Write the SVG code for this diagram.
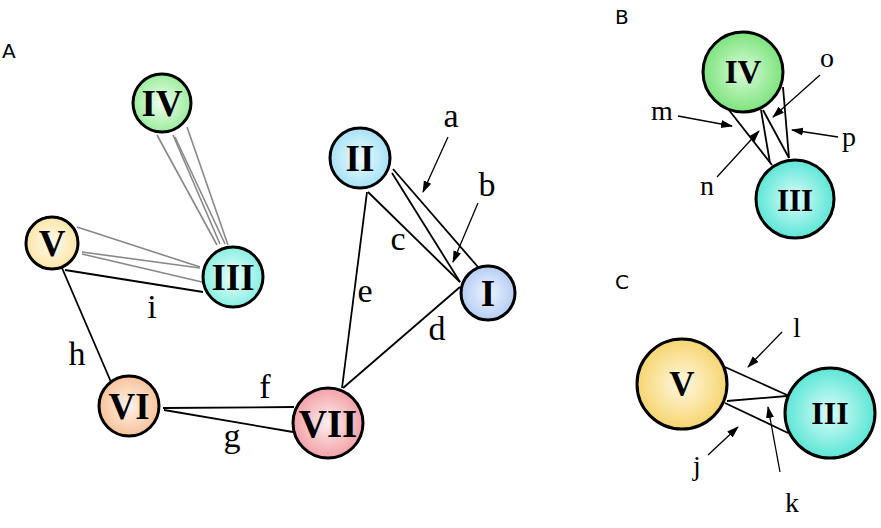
<svg xmlns="http://www.w3.org/2000/svg" width="881" height="528" viewBox="0 0 881 528">
<style>
.e{stroke:#000;stroke-width:1.8;fill:none}
.g{stroke:#888;stroke-width:1.6;fill:none}
.ar{stroke:#000;stroke-width:1.3;fill:none;marker-end:url(#ah)}
.n{stroke:#000;stroke-width:3}
.t{font-family:"Liberation Serif",serif;font-weight:bold;text-anchor:middle;fill:#000}
.l{font-family:"Liberation Serif",serif;text-anchor:middle;fill:#000}
.p{font-family:"DejaVu Sans","Liberation Sans",sans-serif;fill:#000;font-size:20px}
</style>
<defs>
<marker id="ah" markerUnits="userSpaceOnUse" markerWidth="12" markerHeight="10" viewBox="0 0 12 10" refX="11" refY="5" orient="auto"><path d="M0,1 L12,5 L0,9 Z" fill="#000"/></marker>
<radialGradient id="gIVa" cx="0.5" cy="0.5" r="0.5"><stop offset="0" stop-color="#effdef"/><stop offset="1" stop-color="#9ded9d"/></radialGradient>
<radialGradient id="gIIIa" cx="0.5" cy="0.5" r="0.5"><stop offset="0" stop-color="#effefb"/><stop offset="1" stop-color="#88efe3"/></radialGradient>
<radialGradient id="gVa" cx="0.5" cy="0.5" r="0.5"><stop offset="0" stop-color="#fffcf0"/><stop offset="1" stop-color="#fbe6a6"/></radialGradient>
<radialGradient id="gIIa" cx="0.5" cy="0.5" r="0.5"><stop offset="0" stop-color="#f0fbff"/><stop offset="1" stop-color="#a6e2f6"/></radialGradient>
<radialGradient id="gIa" cx="0.5" cy="0.5" r="0.5"><stop offset="0" stop-color="#f0f5ff"/><stop offset="1" stop-color="#b4cdf3"/></radialGradient>
<radialGradient id="gVIa" cx="0.5" cy="0.5" r="0.5"><stop offset="0" stop-color="#fff3ea"/><stop offset="1" stop-color="#f7c39a"/></radialGradient>
<radialGradient id="gVIIa" cx="0.5" cy="0.5" r="0.5"><stop offset="0" stop-color="#fdeeef"/><stop offset="1" stop-color="#f2a2a8"/></radialGradient>
<radialGradient id="gIVb" cx="0.5" cy="0.5" r="0.5"><stop offset="0" stop-color="#dafbda"/><stop offset="1" stop-color="#7de37d"/></radialGradient>
<radialGradient id="gIIIb" cx="0.5" cy="0.5" r="0.5"><stop offset="0" stop-color="#dcfdf9"/><stop offset="1" stop-color="#5ce6d6"/></radialGradient>
<radialGradient id="gVc" cx="0.5" cy="0.5" r="0.5"><stop offset="0" stop-color="#fff8e0"/><stop offset="1" stop-color="#f6d570"/></radialGradient>
</defs>
<rect width="881" height="528" fill="#fff"/>
<text class="p" x="2" y="58">A</text>
<text class="p" x="615" y="24">B</text>
<text class="p" x="615" y="289">C</text>
<g id="connectors">
<line class="g" x1="157" y1="135" x2="217" y2="245"/>
<line class="g" x1="173" y1="135" x2="220" y2="244"/>
<line class="g" x1="175" y1="137" x2="225" y2="244"/>
<line class="g" x1="187" y1="127" x2="228" y2="245"/>
<line class="g" x1="77" y1="227" x2="200" y2="267"/>
<line class="g" x1="82" y1="252" x2="200" y2="268"/>
<line class="g" x1="82" y1="254" x2="202" y2="282"/>
<line class="e" x1="65" y1="270" x2="203" y2="292"/>
<line class="e" x1="62" y1="268" x2="111" y2="382"/>
<line class="e" x1="393" y1="169" x2="478" y2="267"/>
<line class="e" x1="392" y1="173" x2="460" y2="282"/>
<line class="e" x1="368" y1="192" x2="460" y2="282"/>
<line class="e" x1="367" y1="192" x2="342" y2="388"/>
<line class="e" x1="460" y1="287" x2="343" y2="388"/>
<line class="e" x1="163" y1="408" x2="294" y2="407"/>
<line class="e" x1="164" y1="410" x2="293" y2="432"/>
<line class="e" x1="725" y1="105" x2="772" y2="165"/>
<line class="e" x1="761" y1="110" x2="770" y2="163"/>
<line class="e" x1="763" y1="110" x2="789" y2="158"/>
<line class="e" x1="783" y1="87" x2="789" y2="158"/>
<line class="e" x1="725" y1="367" x2="787" y2="395"/>
<line class="e" x1="727" y1="401" x2="787" y2="396"/>
<line class="e" x1="725" y1="403" x2="788" y2="433"/>
<line class="ar" x1="448" y1="137" x2="423" y2="192"/>
<line class="ar" x1="478" y1="203" x2="453" y2="262"/>
<line class="ar" x1="678" y1="116" x2="732" y2="126"/>
<line class="ar" x1="820" y1="75" x2="773" y2="117"/>
<line class="ar" x1="838" y1="137" x2="792" y2="130"/>
<line class="ar" x1="717" y1="177" x2="759" y2="131"/>
<line class="ar" x1="782" y1="332" x2="748" y2="367"/>
<line class="ar" x1="780" y1="472" x2="768" y2="407"/>
<line class="ar" x1="708" y1="455" x2="738" y2="427"/>
<g font-size="34">
<text class="l" x="451" y="127">a</text>
<text class="l" x="487" y="196">b</text>
<text class="l" x="398" y="250">c</text>
<text class="l" x="437" y="340">d</text>
<text class="l" x="365" y="302">e</text>
<text class="l" x="265" y="398">f</text>
<text class="l" x="232" y="447">g</text>
<text class="l" x="77" y="365">h</text>
<text class="l" x="152" y="318">i</text>
</g>
<g font-size="28">
<text class="l" x="662" y="120">m</text>
<text class="l" x="707" y="195">n</text>
<text class="l" x="827" y="67">o</text>
<text class="l" x="849" y="146">p</text>
<text class="l" x="797" y="337">l</text>
<text class="l" x="792" y="512">k</text>
<text class="l" x="697" y="475">j</text>
</g>
</g>
<g id="A-IV"><circle class="n" cx="162" cy="103" r="29" fill="url(#gIVa)"/><text class="t" x="162" y="116" font-size="37">IV</text></g>
<g id="A-V"><circle class="n" cx="52" cy="243" r="26" fill="url(#gVa)"/><text class="t" x="52" y="256" font-size="37">V</text></g>
<g id="A-III"><circle class="n" cx="233" cy="277" r="30" fill="url(#gIIIa)"/><text class="t" x="233" y="290" font-size="37">III</text></g>
<g id="A-II"><circle class="n" cx="360" cy="158" r="30" fill="url(#gIIa)"/><text class="t" x="360" y="171" font-size="37">II</text></g>
<g id="A-I"><circle class="n" cx="488" cy="293" r="27" fill="url(#gIa)"/><text class="t" x="488" y="306" font-size="37">I</text></g>
<g id="A-VI"><circle class="n" cx="129" cy="406" r="30" fill="url(#gVIa)"/><text class="t" x="129" y="419" font-size="37">VI</text></g>
<g id="A-VII"><circle class="n" cx="328" cy="423" r="35" fill="url(#gVIIa)"/><text class="t" x="328" y="437" font-size="39">VII</text></g>
<g id="B-IV"><circle class="n" cx="743" cy="72" r="40" fill="url(#gIVb)"/><text class="t" x="743" y="83" font-size="33">IV</text></g>
<g id="B-III"><circle class="n" cx="795" cy="199" r="39" fill="url(#gIIIb)"/><text class="t" x="795" y="211" font-size="31">III</text></g>
<g id="C-V"><circle class="n" cx="682" cy="384" r="45" fill="url(#gVc)"/><text class="t" x="682" y="396" font-size="35">V</text></g>
<g id="C-III"><circle class="n" cx="830" cy="413" r="45" fill="url(#gIIIb)"/><text class="t" x="830" y="424" font-size="32">III</text></g>
</svg>
